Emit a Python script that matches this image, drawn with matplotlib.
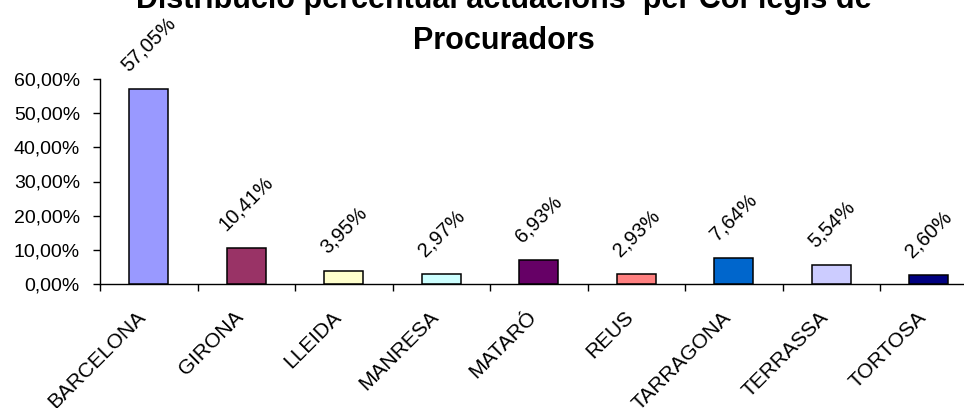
import matplotlib
matplotlib.use("Agg")
import matplotlib.pyplot as plt
import matplotlib.transforms as mtransforms
import numpy as np

# data
colegis = ['BARCELONA', 'GIRONA', 'LLEIDA', 'MANRESA', 'MATARÓ',
           'REUS', 'TARRAGONA', 'TERRASSA', 'TORTOSA']
percent = [57.05, 10.41, 3.95, 2.97, 6.93, 2.93, 7.64, 5.54, 2.60]
bar_colors = ['#9999FF', '#993366', '#FFFFCC', '#CCFFFF', '#660066',
              '#FF8080', '#0066CC', '#CCCCFF', '#000080']
y_ticks = [0, 10, 20, 30, 40, 50, 60]
title_1 = 'Distribució percentual actuacions  per Col·legis de'
title_2 = 'Procuradors'

plt.rcParams['font.family'] = ['Liberation Sans', 'DejaVu Sans']

W, H = 964, 408
fig = plt.figure(figsize=(W / 100, H / 100), dpi=100)
ax = fig.add_axes([100 / W, (H - 284) / H, 877.5 / W, 205 / H])

x = np.arange(len(colegis)) + 0.5
ax.bar(x, percent, width=0.395, color=bar_colors, edgecolor='black',
       linewidth=1.1, zorder=3)

ax.set_xlim(0, len(colegis))
ax.set_ylim(0, 60)
ax.set_xticks(np.arange(len(colegis) + 1))
ax.set_xticklabels([])
ax.set_yticks(y_ticks)
ax.set_yticklabels([f'{v:.2f}%'.replace('.', ',') for v in y_ticks])
ax.tick_params(axis='both', direction='out', length=5, width=1,
               color='black', labelsize=14, pad=9.5)

for side in ['top', 'right']:
    ax.spines[side].set_visible(False)
for side in ['left', 'bottom']:
    ax.spines[side].set_linewidth(1)
    ax.spines[side].set_color('black')

# value labels, rotated
for xi, v in zip(x, percent):
    ax.annotate(f'{v:.2f}%'.replace('.', ','), (xi, v), xytext=(0, 10),
                textcoords='offset points', rotation=45, ha='center',
                va='bottom', fontsize=14.5, clip_on=False)

# category labels, rotated, ending just below the axis
base = mtransforms.blended_transform_factory(ax.transData, ax.transAxes)
shift = mtransforms.ScaledTranslation(-9 / 72, -17 / 72, fig.dpi_scale_trans)
for xi, name in zip(x, colegis):
    ax.text(xi, 0, name, transform=base + shift, rotation=45,
            rotation_mode='anchor', ha='right', va='top', fontsize=15,
            clip_on=False)

fig.text(504 / W, 1 - 8 / H, title_1, ha='center', va='baseline',
         fontsize=22, fontweight='bold')
fig.text(504 / W, 1 - 49 / H, title_2, ha='center', va='baseline',
         fontsize=22, fontweight='bold')

fig.savefig('out.png', dpi=100)
